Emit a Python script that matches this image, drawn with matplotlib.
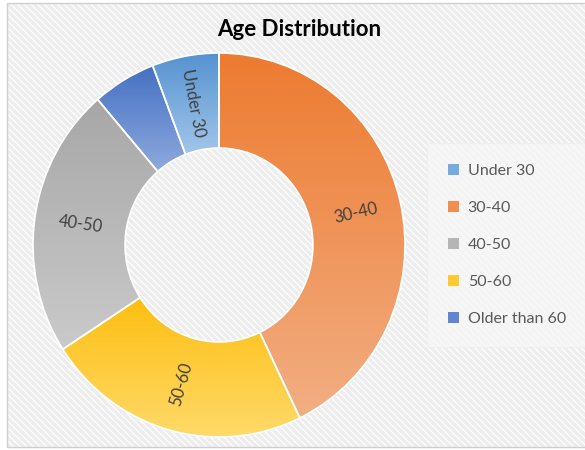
import numpy as np
import matplotlib
matplotlib.use("Agg")
import matplotlib.pyplot as plt
from matplotlib.patches import Rectangle, Patch
from matplotlib.colors import LinearSegmentedColormap

# ---------------- data ----------------
categories = ["Under 30", "30-40", "40-50", "50-60", "Older than 60"]
values = [5.8, 42.8, 22.8, 23.0, 5.5]          # share of respondents (%)
# clockwise order of the slices around the ring, starting with "Under 30"
ring_order = ["Under 30", "30-40", "50-60", "40-50", "Older than 60"]
# data labels shown on the ring (the smallest slice carries none)
ring_labels = {"Under 30": "Under 30", "30-40": "30-40", "40-50": "40-50",
               "50-60": "50-60", "Older than 60": ""}
title = "Age Distribution"

# ---------------- style ----------------
top_colors = {"Under 30": "#5592D0", "30-40": "#ED7B30", "40-50": "#A7A7A7",
              "50-60": "#FDBE10", "Older than 60": "#4571C4"}
bottom_colors = {"Under 30": "#A2C6EA", "30-40": "#F2AE83", "40-50": "#CACACA",
                 "50-60": "#FFDA6A", "Older than 60": "#8FAADD"}
legend_colors = {"Under 30": "#78ACDF", "30-40": "#F08F50", "40-50": "#B5B5B5",
                 "50-60": "#FFC933", "Older than 60": "#5F86CF"}
FONT = ["Lato", "DejaVu Sans"]
plt.rcParams["font.family"] = FONT
plt.rcParams["hatch.linewidth"] = 0.9

W, H = 585, 450
fig = plt.figure(figsize=(W / 100, H / 100), dpi=100)
fig.patch.set_facecolor("white")

# chart-area background (hatched light grey) and border
fig.add_artist(Rectangle((7 / W, 3 / H), (W - 7 + 10) / W, 444 / H,
                         transform=fig.transFigure, facecolor="#EDEDED",
                         edgecolor="white", hatch="\\" * 5, linewidth=0, zorder=-2))
fig.add_artist(Rectangle((7 / W, 3 / H), (W - 7 + 10) / W, 444 / H,
                         transform=fig.transFigure, facecolor="none",
                         edgecolor="#D0D0D0", linewidth=1.0, zorder=-1))

# axes placed so that 1 data unit = 186 px horizontally, 192 px vertically
cx, cy, rx, ry, lim = 219, 245, 186, 192, 1.1
ax = fig.add_axes([(cx - lim * rx) / W, (H - cy - lim * ry) / H,
                   2 * lim * rx / W, 2 * lim * ry / H])
ax.set_zorder(1)

vals = [values[categories.index(c)] for c in ring_order]
start = 90 + 360 * vals[0] / sum(vals)
ring_width = 0.495
wedges, _ = ax.pie(vals, startangle=start, counterclock=False, radius=1.0,
                   wedgeprops=dict(width=ring_width, edgecolor="white",
                                   linewidth=1.2, facecolor="none"))

grad = np.linspace(0, 1, 256).reshape(-1, 1)
for w, cat in zip(wedges, ring_order):
    w.set_zorder(3)
    ext = w.get_path().get_extents()
    cmap = LinearSegmentedColormap.from_list(cat, [top_colors[cat], bottom_colors[cat]])
    im = ax.imshow(grad, extent=(ext.x0, ext.x1, ext.y0, ext.y1), origin="upper",
                   aspect="auto", cmap=cmap, interpolation="bilinear", zorder=2)
    im.set_clip_path(w)
    lab = ring_labels[cat]
    if not lab:
        continue
    # radial label in the middle of the ring
    mid = np.deg2rad((w.theta1 + w.theta2) / 2)
    r_mid = 1 - ring_width / 2
    rot = (np.rad2deg(mid) + 180) % 360 - 180
    if rot > 90:
        rot -= 180
    elif rot < -90:
        rot += 180
    ax.text(r_mid * np.cos(mid), r_mid * np.sin(mid), lab, rotation=rot,
            rotation_mode="anchor", ha="center", va="center",
            fontsize=12, color="#404040", zorder=4)

ax.set_aspect("auto")
ax.set_xlim(-lim, lim)
ax.set_ylim(-lim, lim)
ax.axis("off")

fig.text(299 / W, 1 - 30 / H, title, ha="center", va="center",
         fontsize=16, fontweight="bold", color="black")

handles = [Patch(facecolor=legend_colors[c], edgecolor="none", label=c) for c in categories]
leg = fig.legend(handles=handles, loc="upper left",
                 bbox_to_anchor=(427 / W, 1 - 143 / H), borderaxespad=0,
                 frameon=True, fancybox=False, prop=dict(family=FONT, size=11.5),
                 labelcolor="#595959", handlelength=0.7, handleheight=0.7,
                 handletextpad=0.55, labelspacing=1.43, borderpad=1.3)
leg.get_frame().set_facecolor("#F7F7F7")
leg.get_frame().set_edgecolor("#EFEFEF")
leg.get_frame().set_linewidth(0.8)
leg.set_zorder(5)

fig.savefig("out.png", dpi=100)
